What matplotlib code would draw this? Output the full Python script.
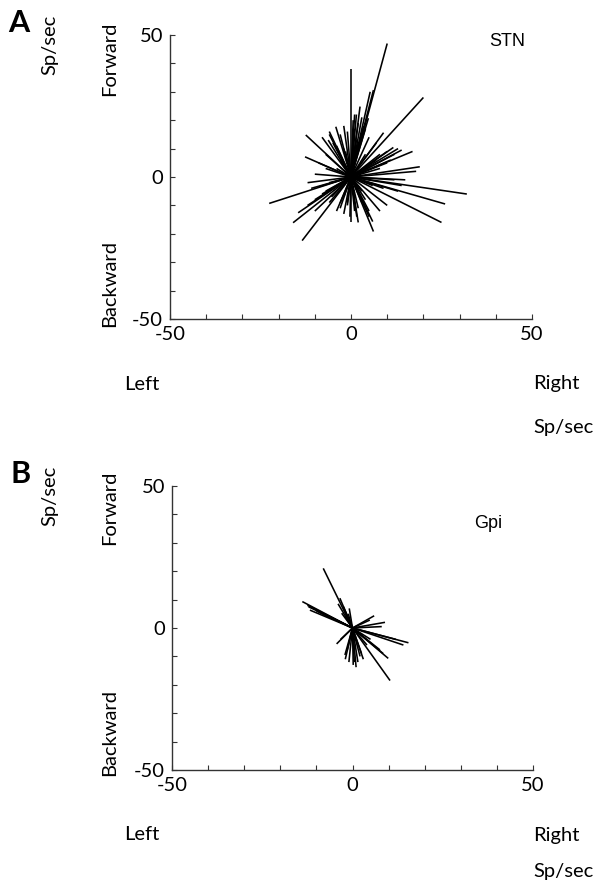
import matplotlib
matplotlib.use("Agg")
import matplotlib.pyplot as plt
import numpy as np

plt.rcParams['font.family'] = ['Lato', 'DejaVu Sans']

# Population vectors (Right/Left component, Forward/Backward component), spikes/sec
stn_dx = [10, 0, 20, 32, 25, 26, 19, 14, 11.7, 9, 6.2, 5.3, 2.5, 4.8, 0.6,
          -4.2, -12.5, -6.3, -12.7, -22.6, -14.6, -16, -13.5, 6.2, 6, 1.6,
          -0.3, -8.8, -3, -5.4, 3, 1, 2, -2, -5, -7, -3, -9, 4, 7, 8, 10,
          12, 6, 9, 13, 4, 2, -1, -4, -7, -10, -6, -4, 3, 1, -2, 0.5, 15,
          5, -11, -6, 1.5, 3.5, -1.5,
          1, 2, -1, 3, -2, 1.5, -3, -6, -8, -4, 4, 5, 7, 10, 13, 8, 11, 17,
          18, 12, 14, 8, 5, 3, 10, 0, 1, -1, 2, -2, -3, -8, -12, -10, -6,
          -10, -7, -12]
stn_dy = [47, 38, 28, -6, -16, -9.5, 3.6, 9.5, 10.4, 15.6, 30.6, 30, 24.8,
          20.7, 20, 17.7, 14.8, 13, 7.1, -9.3, -12.6, -16.1, -22.4, -19.2,
          -15.7, -14, -14, -3.4, -9.2, -7, 14, 17, 12, 10, 12, 8, 6, 5, 8,
          6, 3, 5, 8, -3, -4, -5, -8, -11, -10, -12, -5, -8, -2, 3, -5, -8,
          -13, -6, -1, -12, -4, 15, 22, 18, 9,
          22, 19, 16, 21, 18, 13, 15, 16, 14, 11, 17, 14, 12, 9, 10, 8, 6,
          9, 2, -1, -3, -12, -14, -9, -10, -16, -12, -9, -16, -7, -11, -6,
          -10, -12, -9, 1, 3, -2]

gpi_dx = [-8.1, -13.9, -12.2, -11.8, 15.5, 14.1, 10.4, 9.9, 1, 0.2, -2.1,
          -4.4, 6, 8.1, -3.5, -0.9, -3, 4.8, 7.6, 2.1, -10, -9, 1.5, 12, 8.5,
          -1, -2.5,
          -12.5, -11, -2, 0.5, 2.5, 3, -1.5, 4, 5, 9, -2, -4, -1.2, -3.3]
gpi_dy = [21, 9.3, 7.5, 6.3, -5.2, -6, -18.5, -10.7, -13.8, -13, -9.5,
          -5.6, 4.3, 0.5, 10.5, 6.9, 5.2, 2.8, -7.7, -10, 6, 5.5, -12, -4,
          -9, -12, 7.5,
          8, 7, -11, -12, -9, -11, -8, -6, -4, 2, 4, 8.5, 5, -4]

tick_vals = [-50, 0, 50]
panels = [
    dict(letter='A', name='STN', dx=stn_dx, dy=stn_dy,
         rect=[170 / 603, 1 - 319 / 883, 362 / 603, 284 / 883],
         name_xy=(507, 41), letter_xy=(19, 23), sp_y=45, fwd_y=59,
         bwd_y=283, lr_y=384, sp2_y=427),
    dict(letter='B', name='Gpi', dx=gpi_dx, dy=gpi_dy,
         rect=[172 / 603, 1 - 770 / 883, 361 / 603, 284 / 883],
         name_xy=(488, 523), letter_xy=(21, 474), sp_y=496, fwd_y=508,
         bwd_y=732, lr_y=835, sp2_y=871),
]

W, H = 603, 883
fig = plt.figure(figsize=(W / 100, H / 100), dpi=100)
FS = 14.5


def ftxt(x, y, s, **kw):
    fig.text(x / W, 1 - y / H, s, **kw)


for p in panels:
    ax = fig.add_axes(p['rect'])
    for x, y in zip(p['dx'], p['dy']):
        ax.plot([0, x], [0, y], color='black', lw=1.15, solid_capstyle='butt')
    ax.set_xlim(-50, 50)
    ax.set_ylim(-50, 50)
    ax.spines['top'].set_visible(False)
    ax.spines['right'].set_visible(False)
    for s in ('left', 'bottom'):
        ax.spines[s].set_linewidth(1.0)
        ax.spines[s].set_color('#333333')
    ax.set_xticks(np.arange(-50, 51, 10))
    ax.set_yticks(np.arange(-50, 51, 10))
    ax.set_xticklabels([str(v) if v in tick_vals else '' for v in range(-50, 51, 10)])
    ax.set_yticklabels([str(v) if v in tick_vals else '' for v in range(-50, 51, 10)])
    ax.tick_params(direction='in', length=3.5, width=0.8, labelsize=FS,
                   color='#333333', pad=5)

    ftxt(p['letter_xy'][0], p['letter_xy'][1], p['letter'], fontsize=22,
         fontweight='bold', ha='center', va='center')
    ftxt(50, p['sp_y'], 'Sp/sec', rotation=90, fontsize=FS,
         ha='center', va='center')
    ftxt(110, p['fwd_y'], 'Forward', rotation=90, fontsize=FS,
         ha='center', va='center')
    ftxt(110, p['bwd_y'], 'Backward', rotation=90, fontsize=FS,
         ha='center', va='center')
    ftxt(p['name_xy'][0], p['name_xy'][1], p['name'], fontsize=13,
         family='Liberation Sans', ha='center', va='center')
    ftxt(142, p['lr_y'], 'Left', fontsize=FS, ha='center', va='center')
    ftxt(533, p['lr_y'], 'Right', fontsize=FS, ha='left', va='center')
    ftxt(533, p['sp2_y'], 'Sp/sec', fontsize=FS, ha='left', va='center')

fig.savefig('out.png', dpi=100)
